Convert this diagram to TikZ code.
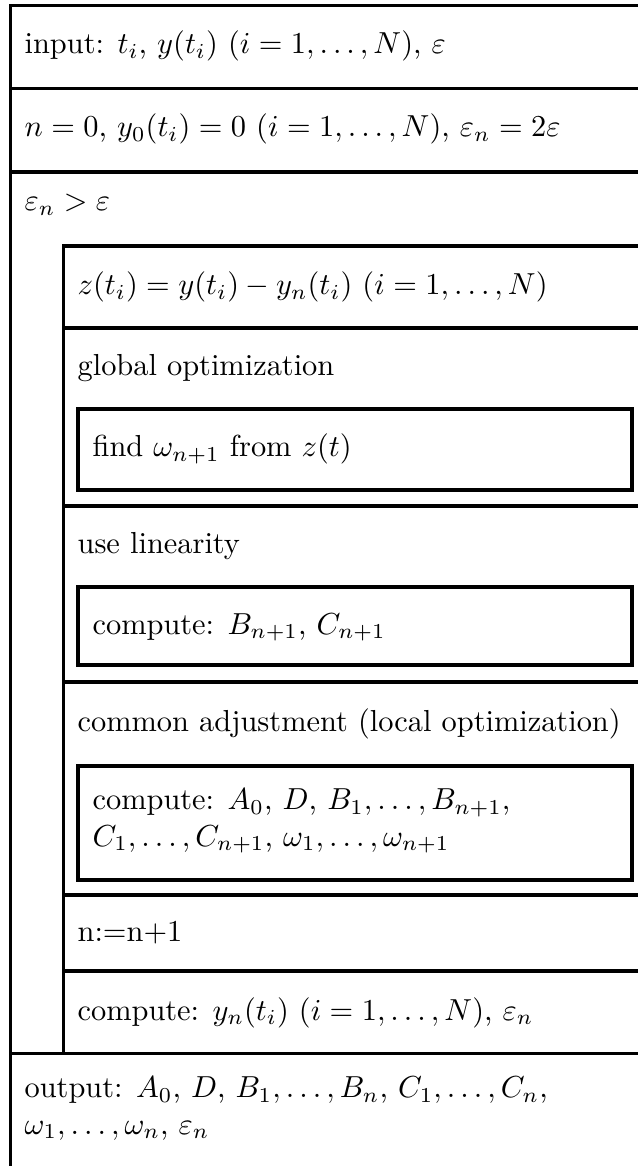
\documentclass[tikz,border=0pt]{standalone}
\usepackage{amsmath}
\begin{document}
\begin{tikzpicture}[x=0.329pt,y=-0.329pt,
  lbl/.style={anchor=base west, inner sep=0pt, align=left},
  rule/.style={line width=1.2pt, line cap=rect},
  inbox/.style={line width=1.2pt}]
\useasboundingbox (0,0) rectangle (637,1166);
% outer structure
\draw[rule] (10.5,1170) -- (10.5,5.5) -- (640,5.5);
\draw[rule] (10.5,88.5) -- (640,88.5);
\draw[rule] (10.5,172) -- (640,172);
\draw[rule] (10.5,1053.5) -- (640,1053.5);
% loop body
\draw[rule] (63.5,1053.5) -- (63.5,246) -- (640,246);
\foreach \yy in {328,506,682,895,971}
  \draw[rule] (63.5,\yy) -- (640,\yy);
% inner boxes
\draw[inbox] (78,409) rectangle (632,490);
\draw[inbox] (78,587) rectangle (632,665);
\draw[inbox] (78,766) rectangle (632,880);
% texts
\node[lbl] (input) at (24,54) {input: $t_i$, $y(t_i)$ $(i=1,\ldots,N)$, $\varepsilon$};
\node[lbl] (init) at (24,137) {$n=0$, $y_0(t_i)=0$ $(i=1,\ldots,N)$, $\varepsilon_n=2\varepsilon$};
\node[lbl] (cond) at (24,211) {$\varepsilon_n>\varepsilon$};
\node[lbl] (zt) at (77,295) {$z(t_i)=y(t_i)-y_n(t_i)$ $(i=1,\ldots,N)$};
\node[lbl] (glob) at (77,376) {global optimization};
\node[lbl] (find) at (92,457) {find $\omega_{n+1}$ from $z(t)$};
\node[lbl] (lin) at (77,554) {use linearity};
\node[lbl] (compB) at (92,634) {compute: $B_{n+1}$, $C_{n+1}$};
\node[lbl] (adj) at (77,731) {common adjustment (local optimization)};
\node[lbl] (compA) at (92,846) {compute: $A_0$, $D$, $B_1,\ldots,B_{n+1}$,\\ $C_1,\ldots,C_{n+1}$, $\omega_1,\ldots,\omega_{n+1}$};
\node[lbl] (inc) at (77,941) {n:=n+1};
\node[lbl] (compY) at (77,1020) {compute: $y_n(t_i)$ $(i=1,\ldots,N)$, $\varepsilon_n$};
\node[lbl] (out) at (24,1134) {output: $A_0$, $D$, $B_1,\ldots,B_n$, $C_1,\ldots,C_n$,\\ $\omega_1,\ldots,\omega_n$, $\varepsilon_n$};
\end{tikzpicture}
\end{document}
